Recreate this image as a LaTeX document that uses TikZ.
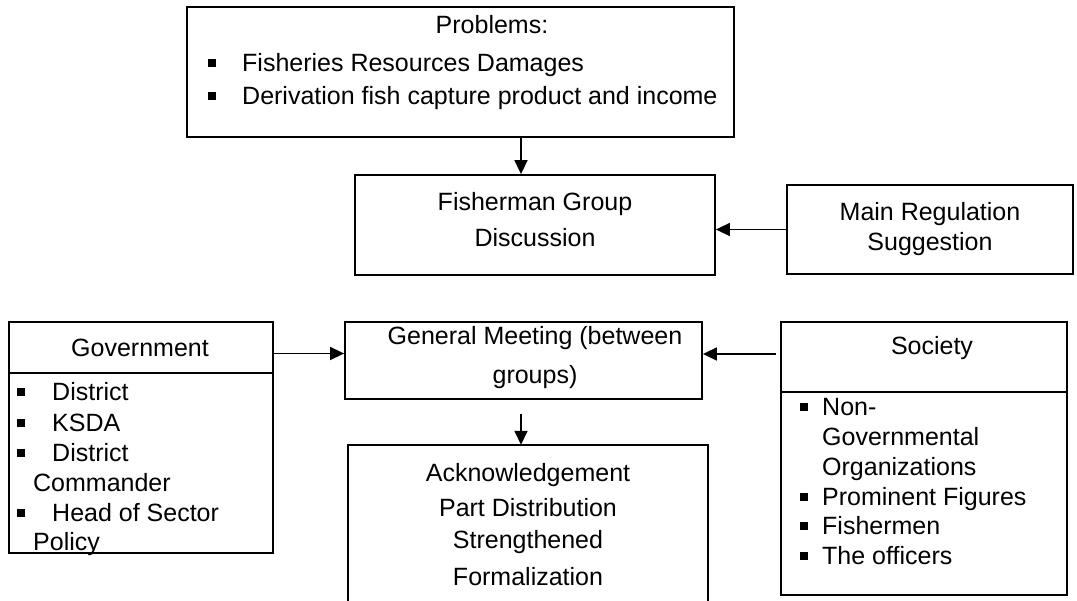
\documentclass[tikz,border=0pt]{standalone}
\usepackage{fontspec}
\setmainfont{Liberation Sans}
\usetikzlibrary{arrows.meta}
\begin{document}
\begin{tikzpicture}[x=1pt,y=-1pt,
  box/.style={draw,line width=1.8pt,rectangle,inner sep=0pt},
  frame/.style={rectangle,inner sep=0pt},
  txt/.style={inner sep=0pt,text height=17.8pt,text depth=0pt,font=\fontsize{25}{30}\selectfont},
  ltxt/.style={txt,anchor=west},
  bul/.style={fill,inner sep=0pt,minimum size=7.5pt},
  arr/.style={line width=1.6pt,-{Triangle[length=14pt,width=13pt]}},
  divider/.style={line width=1.8pt}]
\useasboundingbox (0,0) rectangle (1077,601);
\fill[white] (0,0) rectangle (1077,601);
\clip (0,0) rectangle (1077,601);

% Problems
\node[box,minimum width=547pt,minimum height=130pt] (prob) at (460.5,72) {};
\node[txt] (probT) at (492,25) {Problems:};
\node[bul] (pb1) at (212,63) {};
\node[ltxt] (p1) at (242,63) {Fisheries Resources Damages};
\node[bul] (pb2) at (212,96) {};
\node[ltxt] (p2) at (242,96) {Derivation fish capture product and income};

% Fisherman group discussion
\node[box,minimum width=360pt,minimum height=100pt] (fish) at (535,225) {};
\node[txt] (f1) at (535,202) {Fisherman Group};
\node[txt] (f2) at (535,238) {Discussion};

% Main regulation suggestion
\node[box,minimum width=286pt,minimum height=89pt] (reg) at (930,229.5) {};
\node[txt] (r1) at (930,212) {Main Regulation};
\node[txt] (r2) at (930,242) {Suggestion};

% Government
\node[box,minimum width=264pt,minimum height=231pt] (gov) at (141,437.5) {};
\draw[divider] (gov.west |- 0,373) -- (gov.east |- 0,373);
\node[txt] (gT) at (140,348) {Government};
\node[bul] (gb1) at (21,392) {};
\node[ltxt] (g1) at (52,392) {District};
\node[bul] (gb2) at (21,423) {};
\node[ltxt] (g2) at (52,423) {KSDA};
\node[bul] (gb3) at (21,453) {};
\node[ltxt] (g3) at (52,453) {District};
\node[ltxt] (g4) at (33,483) {Commander};
\node[bul] (gb4) at (21,513) {};
\node[ltxt] (g5) at (52,513) {Head of Sector};
\node[ltxt] (g6) at (33,542) {Policy};

% General meeting
\node[box,minimum width=357pt,minimum height=77pt] (gen) at (523.5,360.5) {};
\node[txt] (m1) at (535,336) {General Meeting (between};
\node[txt] (m2) at (535,375) {groups)};

% Acknowledgement (runs past the lower edge)
\node[frame,minimum width=360pt,minimum height=200pt] (ack) at (528,545) {};
\draw[divider] (ack.south west) -- (ack.north west) -- (ack.north east) -- (ack.south east);
\node[txt] (a1) at (528,473) {Acknowledgement};
\node[txt] (a2) at (528,508) {Part Distribution};
\node[txt] (a3) at (528,540) {Strengthened};
\node[txt] (a4) at (528,577) {Formalization};

% Society
\node[box,minimum width=286pt,minimum height=273pt] (soc) at (924,458.5) {};
\draw[divider] (soc.west |- 0,392) -- (soc.east |- 0,392);
\node[txt] (sT) at (932,346) {Society};
\node[bul] (sb1) at (804,407) {};
\node[ltxt] (s1) at (822,407) {Non-};
\node[ltxt] (s2) at (822,437) {Governmental};
\node[ltxt] (s3) at (822,467) {Organizations};
\node[bul] (sb2) at (804,497) {};
\node[ltxt] (s4) at (822,497) {Prominent Figures};
\node[bul] (sb3) at (804,526) {};
\node[ltxt] (s5) at (822,526) {Fishermen};
\node[bul] (sb4) at (804,556) {};
\node[ltxt] (s6) at (822,556) {The officers};

% Connectors
\draw[arr] ([xshift=-14pt]fish.north |- prob.south) -- ([xshift=-14pt]fish.north);
\draw[arr] (reg.west) -- (reg.west -| fish.east);
\coordinate (gin) at ([yshift=7pt]gen.west);
\coordinate (sin) at ([yshift=6.5pt]gen.east);
\draw[arr] (gov.east |- gin) -- (gin);
\draw[arr, shorten <=4pt] (soc.west |- sin) -- (sin);
\draw[arr, shorten <=14pt] ([xshift=-2.5pt]gen.south) -- ([xshift=-2.5pt]gen.south |- ack.north);
\end{tikzpicture}
\end{document}
